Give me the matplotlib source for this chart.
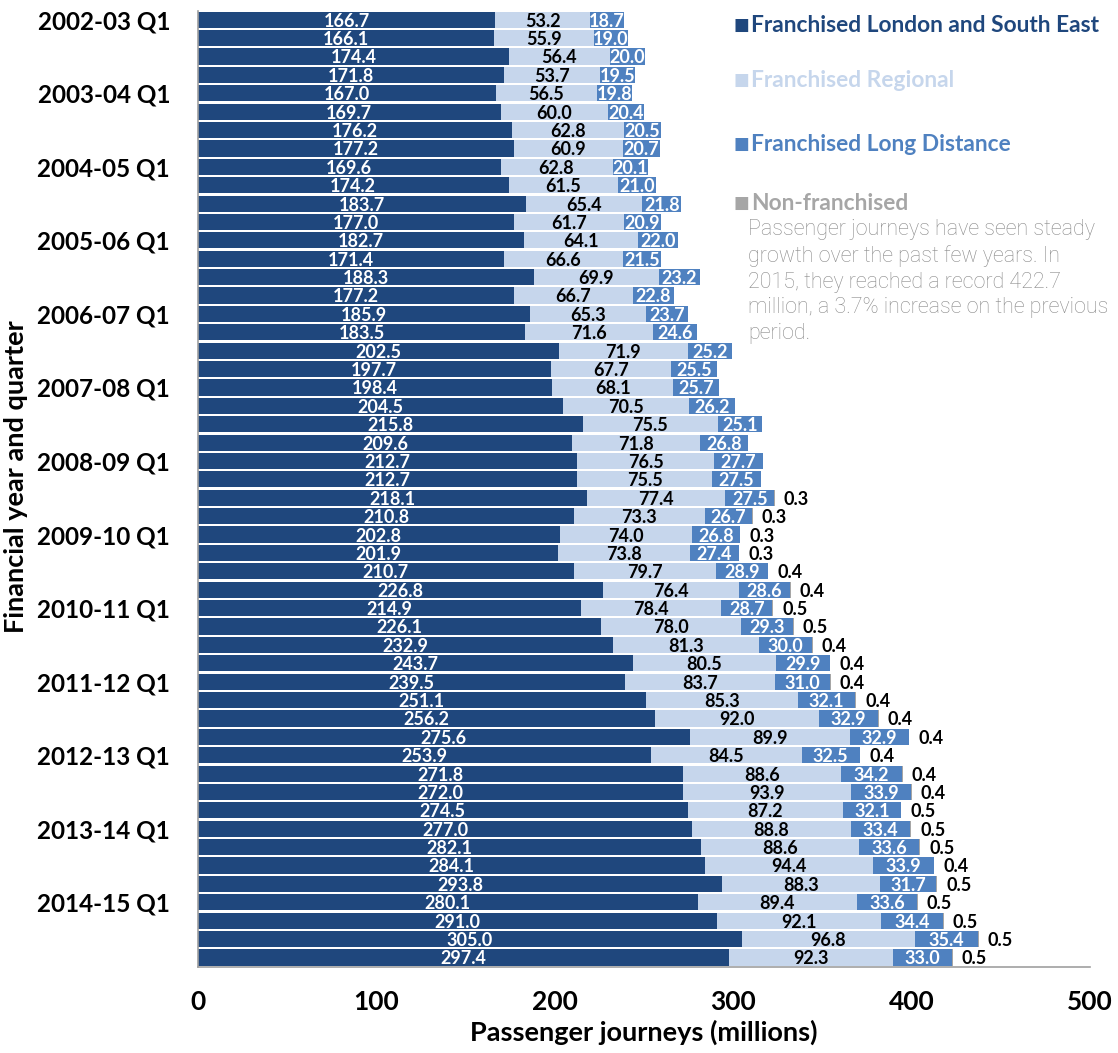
import matplotlib
matplotlib.use("Agg")
import matplotlib.pyplot as plt
import numpy as np

years = ["2002-03", "2003-04", "2004-05", "2005-06", "2006-07", "2007-08", "2008-09",
         "2009-10", "2010-11", "2011-12", "2012-13", "2013-14", "2014-15"]
quarters = [f"{y} Q{q}" for y in years for q in range(1, 5)]

london_se = [166.7, 166.1, 174.4, 171.8, 167.0, 169.7, 176.2, 177.2, 169.6, 174.2, 183.7, 177.0,
             182.7, 171.4, 188.3, 177.2, 185.9, 183.5, 202.5, 197.7, 198.4, 204.5, 215.8, 209.6,
             212.7, 212.7, 218.1, 210.8, 202.8, 201.9, 210.7, 226.8, 214.9, 226.1, 232.9, 243.7,
             239.5, 251.1, 256.2, 275.6, 253.9, 271.8, 272.0, 274.5, 277.0, 282.1, 284.1, 293.8,
             280.1, 291.0, 305.0, 297.4]
regional = [53.2, 55.9, 56.4, 53.7, 56.5, 60.0, 62.8, 60.9, 62.8, 61.5, 65.4, 61.7, 64.1, 66.6,
            69.9, 66.7, 65.3, 71.6, 71.9, 67.7, 68.1, 70.5, 75.5, 71.8, 76.5, 75.5, 77.4, 73.3,
            74.0, 73.8, 79.7, 76.4, 78.4, 78.0, 81.3, 80.5, 83.7, 85.3, 92.0, 89.9, 84.5, 88.6,
            93.9, 87.2, 88.8, 88.6, 94.4, 88.3, 89.4, 92.1, 96.8, 92.3]
long_distance = [18.7, 19.0, 20.0, 19.5, 19.8, 20.4, 20.5, 20.7, 20.1, 21.0, 21.8, 20.9, 22.0,
                 21.5, 23.2, 22.8, 23.7, 24.6, 25.2, 25.5, 25.7, 26.2, 25.1, 26.8, 27.7, 27.5,
                 27.5, 26.7, 26.8, 27.4, 28.9, 28.6, 28.7, 29.3, 30.0, 29.9, 31.0, 32.1, 32.9,
                 32.9, 32.5, 34.2, 33.9, 32.1, 33.4, 33.6, 33.9, 31.7, 33.6, 34.4, 35.4, 33.0]
non_franchised = [None] * 26 + [0.3, 0.3, 0.3, 0.3, 0.4, 0.4, 0.5, 0.5, 0.4, 0.4, 0.4, 0.4, 0.4,
                                0.4, 0.4, 0.4, 0.4, 0.5, 0.5, 0.5, 0.4, 0.5, 0.5, 0.5, 0.5, 0.5]

series_names = ["Franchised London and South East", "Franchised Regional",
                "Franchised Long Distance", "Non-franchised"]
colors = ["#1f477d", "#c6d6ec", "#4f81c0", "#a6a6a6"]
label_colors = ["white", "black", "white", "black"]

note = ("Passenger journeys have seen steady\ngrowth over the past few years. In\n"
        "2015, they reached a record 422.7\nmillion, a 3.7% increase on the previous\nperiod.")

plt.rcParams['font.family'] = ['Lato', 'DejaVu Sans']

fig = plt.figure(figsize=(11.18, 10.53), dpi=100)
ax = fig.add_axes([0.177, 0.082, 0.798, 0.908])

n = len(quarters)
y = np.arange(n)
nf = np.array([v if v is not None else 0.0 for v in non_franchised])
data = [np.array(london_se), np.array(regional), np.array(long_distance), nf]

left = np.zeros(n)
h = 0.88
lab_fs = 13
for i, (vals, c) in enumerate(zip(data, colors)):
    ax.barh(y, vals, left=left, height=h, color=c, edgecolor='none', label=series_names[i])
    for j in range(n):
        v = vals[j]
        if i == 3:
            if non_franchised[j] is None:
                continue
            ax.text(left[j] + v + 5, y[j] + 0.08, f"{v:.1f}", ha='left', va='center',
                    fontsize=lab_fs, fontweight='bold', color='black')
        else:
            ax.text(left[j] + v / 2, y[j] + 0.08, f"{v:.1f}", ha='center', va='center',
                    fontsize=lab_fs, fontweight='bold', color=label_colors[i])
    left = left + vals

ax.set_ylim(n - 0.5, -0.5)
ax.set_xlim(0, 500)
ax.set_xticks([0, 100, 200, 300, 400, 500])
ax.tick_params(axis='x', length=0, labelsize=19, pad=17)
for t in ax.get_xticklabels():
    t.set_fontweight('bold')

ax.set_yticks(y[::4])
ax.set_yticklabels(quarters[::4], fontsize=17.5, fontweight='bold')
ax.tick_params(axis='y', length=0, pad=20)

for s in ['top', 'right']:
    ax.spines[s].set_visible(False)
for s in ['left', 'bottom']:
    ax.spines[s].set_color('#a0a0a0')
    ax.spines[s].set_linewidth(1.2)

ax.set_xlabel("Passenger journeys (millions)", fontsize=19.5, fontweight='bold', labelpad=4)
fig.text(0.014, 0.547, "Financial year and quarter", rotation=90, fontsize=19.5,
         fontweight='bold', ha='center', va='center')

# legend
leg_y = [0.976, 0.924, 0.863, 0.807]
for name, c, yy in zip(series_names, colors, leg_y):
    fig.text(0.656, yy, "\u25A0", color=c, fontsize=12, ha='left', va='center')
    fig.text(0.672, yy, name, color=c, fontsize=16.4, fontweight='bold', ha='left', va='center')

fig.text(0.669, 0.792, note, fontsize=15.5, color='#8a8a8a', ha='left', va='top',
         family=['Roboto', 'DejaVu Sans'], fontweight='light', linespacing=1.3)

fig.savefig("out.png", dpi=100, facecolor='white')
